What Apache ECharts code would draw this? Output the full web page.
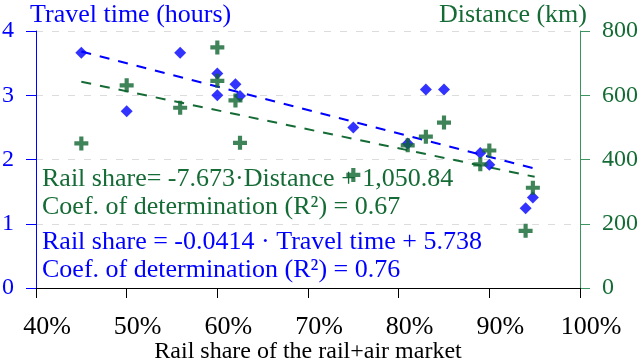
<!DOCTYPE html>
<html>
<head>
<meta charset="utf-8">
<script src="https://cdn.jsdelivr.net/npm/echarts@6/dist/echarts.min.js"></script>
<style>
  html, body { margin: 0; padding: 0; background: #fff; }
  #chart { width: 640px; height: 364px; }
</style>
</head>
<body>
<div id="chart"></div>
<script>
// rail share (%) of each route
var railShare = [45, 50, 55.9, 60, 60, 62, 62.5, 75, 81, 83, 85, 89, 90, 94, 94.8];
// travel time in hours (left axis)
var travelTime = [3.66, 2.75, 3.66, 3.34, 3.00, 3.17, 2.99, 2.50, 2.25, 3.09, 3.09, 2.10, 1.92, 1.24, 1.41];
// distance in km (right axis)
var distance = [450, 631, 561, 749, 645, 584, 452, 352, 444, 471, 515, 385, 428, 178, 312];
// trend lines, end points
var timeTrend = [[45, 3.68], [95, 1.86]];
var distTrend = [[45, 642], [95, 346]];

var BLUE = '#0000ff';
var GREEN = '#156b35';
var FONT = '"Liberation Serif", "DejaVu Serif", serif';

var timePoints = railShare.map(function (s, i) { return [s, travelTime[i]]; });
var distPoints = railShare.map(function (s, i) { return [s, distance[i]]; });

var chart = echarts.init(document.getElementById('chart'));

chart.setOption({
  backgroundColor: '#fff',
  animation: false,
  grid: { left: 36, right: 60, top: 31, bottom: 76, outerBoundsMode: 'none' },
  xAxis: {
    type: 'value',
    min: 40,
    max: 100,
    interval: 10,
    name: 'Rail share of the rail+air market',
    nameLocation: 'middle',
    nameGap: 52,
    nameMoveOverlap: false,
    nameTextStyle: { fontFamily: FONT, fontSize: 24, color: '#000' },
    axisLine: { lineStyle: { color: '#000', width: 1 } },
    axisTick: { length: 10, lineStyle: { color: '#000' } },
    axisLabel: {
      formatter: '{value}%',
      margin: 26,
      padding: [0, 0, 0, 22],
      fontFamily: FONT,
      fontSize: 26,
      color: '#000'
    },
    splitLine: { show: false }
  },
  yAxis: [
    {
      type: 'value',
      min: 0,
      max: 4,
      interval: 1,
      axisLine: { show: true, lineStyle: { color: BLUE, width: 1 } },
      axisTick: { show: true, length: 10, lineStyle: { color: BLUE } },
      axisLabel: { margin: 22, fontFamily: FONT, fontSize: 24, color: BLUE },
      splitLine: {
        show: true,
        lineStyle: { color: '#dcdcdc', type: [7, 9], width: 1 }
      }
    },
    {
      type: 'value',
      min: 0,
      max: 800,
      interval: 200,
      position: 'right',
      axisLine: { show: true, lineStyle: { color: '#3c9460', width: 1 } },
      axisTick: { show: true, length: 10, lineStyle: { color: '#3c9460' } },
      axisLabel: { margin: 22, fontFamily: FONT, fontSize: 24, color: GREEN },
      splitLine: { show: false }
    }
  ],
  series: [
    {
      type: 'line',
      yAxisIndex: 0,
      data: timeTrend,
      showSymbol: false,
      silent: true,
      lineStyle: { color: BLUE, width: 2, type: [10, 9] },
      z: 1
    },
    {
      type: 'line',
      yAxisIndex: 1,
      data: distTrend,
      showSymbol: false,
      silent: true,
      lineStyle: { color: GREEN, width: 2, type: [10, 9] },
      z: 1
    },
    {
      type: 'scatter',
      yAxisIndex: 0,
      data: timePoints,
      symbol: 'diamond',
      symbolSize: 12,
      itemStyle: { color: BLUE },
      z: 3
    },
    {
      type: 'scatter',
      yAxisIndex: 1,
      data: distPoints,
      symbol: 'path://M4,0h3.4v4h4v3.4h-4v4h-3.4v-4h-4v-3.4h4z',
      symbolSize: 14,
      itemStyle: { color: '#0f6430' },
      z: 3
    }
  ],
  graphic: [
    {
      type: 'text', left: 30, top: 2,
      style: { text: 'Travel time (hours)', font: '26px ' + FONT, fill: BLUE }
    },
    {
      type: 'text', right: 53, top: 2,
      style: { text: 'Distance (km)', font: '26px ' + FONT, fill: GREEN }
    },
    {
      type: 'text', left: 42, top: 166,
      style: { text: 'Rail share= -7.673\u00b7Distance + 1,050.84', font: '26px ' + FONT, fill: GREEN }
    },
    {
      type: 'text', left: 42, top: 194,
      style: { text: 'Coef. of determination (R\u00b2) = 0.67', font: '26px ' + FONT, fill: GREEN }
    },
    {
      type: 'text', left: 42, top: 229,
      style: { text: 'Rail share = -0.0414 \u00b7 Travel time + 5.738', font: '26px ' + FONT, fill: BLUE }
    },
    {
      type: 'text', left: 42, top: 257,
      style: { text: 'Coef. of determination (R\u00b2) = 0.76', font: '26px ' + FONT, fill: BLUE }
    }
  ]
});
</script>
</body>
</html>
